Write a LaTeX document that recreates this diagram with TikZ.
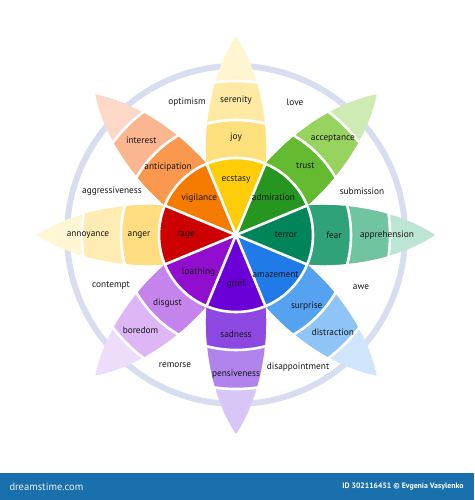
\documentclass[tikz,border=0pt]{standalone}
\usepackage{fontspec}
\setmainfont{PT Sans}

\definecolor{joyA}{RGB}{255,205,10}
\definecolor{joyB}{RGB}{254,224,125}
\definecolor{joyC}{RGB}{255,234,165}
\definecolor{joyD}{RGB}{255,245,208}
\definecolor{trustA}{RGB}{38,150,32}
\definecolor{trustB}{RGB}{100,186,48}
\definecolor{trustC}{RGB}{152,210,95}
\definecolor{trustD}{RGB}{205,235,178}
\definecolor{fearA}{RGB}{0,132,90}
\definecolor{fearB}{RGB}{48,162,122}
\definecolor{fearC}{RGB}{112,196,160}
\definecolor{fearD}{RGB}{188,229,211}
\definecolor{surpA}{RGB}{32,122,232}
\definecolor{surpB}{RGB}{84,162,240}
\definecolor{surpC}{RGB}{142,196,246}
\definecolor{surpD}{RGB}{206,229,251}
\definecolor{sadA}{RGB}{106,0,215}
\definecolor{sadB}{RGB}{142,72,226}
\definecolor{sadC}{RGB}{176,132,236}
\definecolor{sadD}{RGB}{216,198,246}
\definecolor{disgA}{RGB}{146,14,206}
\definecolor{disgB}{RGB}{196,132,236}
\definecolor{disgC}{RGB}{221,182,246}
\definecolor{disgD}{RGB}{238,220,251}
\definecolor{angA}{RGB}{205,0,0}
\definecolor{angB}{RGB}{255,221,128}
\definecolor{angC}{RGB}{255,236,178}
\definecolor{angD}{RGB}{255,246,212}
\definecolor{antA}{RGB}{245,122,0}
\definecolor{antB}{RGB}{250,152,78}
\definecolor{antC}{RGB}{250,182,142}
\definecolor{antD}{RGB}{252,216,198}
\definecolor{ringcol}{RGB}{216,221,240}
\definecolor{bannerblue}{RGB}{26,112,172}
\definecolor{inkcol}{RGB}{22,22,26}

\newcommand{\petalpath}{(0,0) -- (22.5:77) .. controls (120,33) and (170,20) .. (199,0)
  .. controls (170,-20) and (120,-33) .. (-22.5:77) -- cycle}

\tikzset{
  lbl/.style={font=\fontsize{9.3}{10}\selectfont, text=inkcol, inner sep=0pt},
  sep/.style={draw=white, line width=2.6pt}
}

\begin{document}
\begin{tikzpicture}[x=1pt, y=1pt]
    \useasboundingbox (-236,-265) rectangle (238,235);
    \draw[ringcol, line width=6pt] (0,0) circle[radius=169];
    \foreach \ang/\ca/\cb/\cc/\cd in {90/joyA/joyB/joyC/joyD, 45/trustA/trustB/trustC/trustD,
      0/fearA/fearB/fearC/fearD, -45/surpA/surpB/surpC/surpD, -90/sadA/sadB/sadC/sadD,
      -135/disgA/disgB/disgC/disgD, 180/angA/angB/angC/angD, 135/antA/antB/antC/antD} {
      \begin{scope}[rotate=\ang]
        \clip \petalpath;
        \fill[\cd] (0,0) circle[radius=210];
        \fill[\cc] (0,0) circle[radius=154];
        \fill[\cb] (0,0) circle[radius=115];
        \fill[\ca] (0,0) circle[radius=77];
      \end{scope}
    }
    \draw[sep] (0,0) circle[radius=77] (0,0) circle[radius=115] (0,0) circle[radius=154];
    \foreach \a in {22.5, 67.5, ..., 337.5}
      \draw[sep] (0,0) -- (\a:77);
    \node[lbl] (ecstasy) at (90:55) {ecstasy};
    \node[lbl] (admiration) at (45:53) {admiration};
    \node[lbl] (terror) at (0:50) {terror};
    \node[lbl] (amazement) at (-45:56) {amazement};
    \node[lbl] (grief) at (-90:49) {grief};
    \node[lbl] (loathing) at (-135:53) {loathing};
    \node[lbl] (rage) at (180:50) {rage};
    \node[lbl] (vigilance) at (135:52) {vigilance};
    \node[lbl] (joy) at (90:98) {joy};
    \node[lbl] (trust) at (45:98) {trust};
    \node[lbl] (fear) at (0:98) {fear};
    \node[lbl] (surprise) at (-45:100) {surprise};
    \node[lbl] (sadness) at (-90:99) {sadness};
    \node[lbl] (disgust) at (-135:97) {disgust};
    \node[lbl] (anger) at (180:97) {anger};
    \node[lbl] (anticipation) at (135:96) {anticipation};
    \node[lbl] (serenity) at (90:135) {serenity};
    \node[lbl] (acceptance) at (45:137) {acceptance};
    \node[lbl] (apprehension) at (0:151) {apprehension};
    \node[lbl] (distraction) at (-45:137) {distraction};
    \node[lbl] (pensiveness) at (-90:139) {pensiveness};
    \node[lbl] (boredom) at (-135:135) {boredom};
    \node[lbl] (annoyance) at (180:148) {annoyance};
    \node[lbl] (interest) at (135:134) {interest};
    \node[lbl] (optimism) at (-49,133) {optimism};
    \node[lbl] (love) at (59,133) {love};
    \node[lbl] (submission) at (126,44) {submission};
    \node[lbl] (awe) at (125,-52) {awe};
    \node[lbl] (disappointment) at (62,-132) {disappointment};
    \node[lbl] (remorse) at (-61,-130) {remorse};
    \node[lbl] (contempt) at (-125,-51) {contempt};
    \node[lbl] (aggressiveness) at (-124,44) {aggressiveness};
    \fill[bannerblue] (-236,-238) rectangle (238,-265);
    \node[font=\fontsize{10.5}{11}\selectfont, text=white!90!bannerblue, anchor=west] (site)
      at (-230,-251.5) {dreamstime.com};
    \node[font=\bfseries\fontsize{7.8}{8}\selectfont, text=white, anchor=east] (credit)
      at (231,-251.5) {ID 302116451 © Evgenia Vasylenko};
\end{tikzpicture}
\end{document}
